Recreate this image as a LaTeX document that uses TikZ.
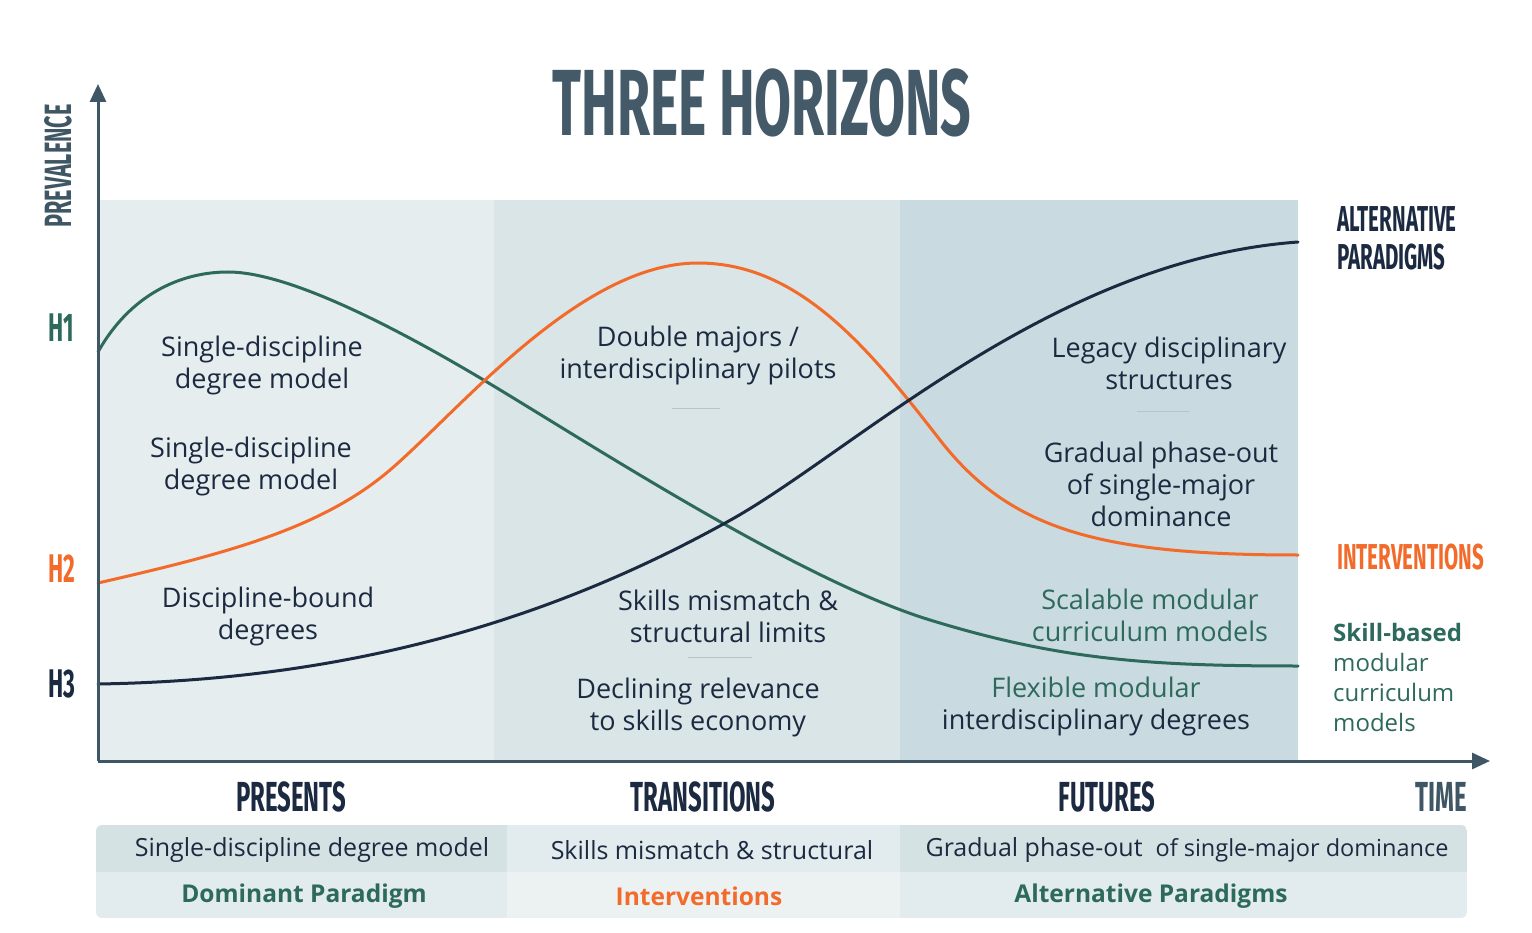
\documentclass[tikz,border=0pt]{standalone}
\usepackage{fontspec}
\setmainfont{Open Sans}
\newfontfamily\condfont{Fira Sans}[FakeStretch=0.57]
\usetikzlibrary{arrows.meta}
\definecolor{navy}{HTML}{1B2A40}
\definecolor{hgreen}{HTML}{2D6A5C}
\definecolor{horange}{HTML}{F26B2A}
\definecolor{axisc}{HTML}{3F5664}
\definecolor{titlec}{HTML}{455A69}
\definecolor{pa}{HTML}{E6EDEF}
\definecolor{pb}{HTML}{D9E5E7}
\definecolor{pc}{HTML}{C9DBE0}
\definecolor{ta}{HTML}{D5E2E4}
\definecolor{tb}{HTML}{E2EBED}
\definecolor{tc}{HTML}{ECF1F2}
\definecolor{sepc}{HTML}{B5C6CC}
\begin{document}
\begin{tikzpicture}[x=1pt,y=-1pt,
  body/.style={font=\fontsize{27}{32}\selectfont, text=navy, align=center, inner sep=0pt},
  cell/.style={font=\fontsize{25}{28}\selectfont, text=navy, inner sep=0pt},
  cellb/.style={font=\fontsize{24.5}{28}\selectfont\bfseries, inner sep=0pt},
  cond/.style={font=\condfont\bfseries\fontsize{#1}{#1}\selectfont, inner sep=0pt},
  cond/.default=40,
  curve/.style={line width=3pt, line cap=round},
  sep/.style={sepc, line width=1pt},
  axis/.style={axisc, line width=3pt, -{Triangle[length=18pt,width=16pt]}}]
\useasboundingbox (0,0) rectangle (1532,933);
\fill[white] (0,0) rectangle (1532,933);
% panels
\fill[pa] (98,200) rectangle (494,760);
\fill[pb] (494,200) rectangle (900,760);
\fill[pc] (900,200) rectangle (1298,760);
% title
\node[cond=94, text=titlec] (title) at (762,103) {THREE HORIZONS};
% curves
\draw[curve, hgreen] (98,352) .. controls (130,295) and (180,272) .. (228,272)
  .. controls (290,272) and (400,330) .. (487,382)
  .. controls (600,450) and (800,580) .. (930,620)
  .. controls (1060,660) and (1150,666) .. (1298,666);
\draw[curve, horange] (98,583) .. controls (220,555) and (320,530) .. (390,470)
  .. controls (460,410) and (580,263) .. (698,263)
  .. controls (800,263) and (870,350) .. (940,440)
  .. controls (1010,530) and (1100,555) .. (1298,555);
\draw[curve, navy] (98,684) .. controls (350,680) and (550,620) .. (727,522)
  .. controls (850,455) and (1050,260) .. (1298,242);
% axes
\coordinate (o) at (98,761);
\coordinate (ytop) at (98,84);
\coordinate (xend) at (1490,761);
\draw[axis] (o) -- (ytop);
\draw[axis] (o) -- (xend);
% axis labels
\node[cond=38, text=axisc, rotate=90] (prev) at (58,166) {PREVALENCE};
\node[cond=40, text=hgreen] (h1) at (61,328) {H1};
\node[cond=40, text=horange] (h2) at (62,569) {H2};
\node[cond=40, text=navy] (h3) at (62,684) {H3};
% panel texts
\node[body] (t1) at (262,365) {Single-discipline\\degree model};
\node[body] (t2) at (251,466) {Single-discipline\\degree model};
\node[body] (t3) at (268,616) {Discipline-bound\\degrees};
\node[body] (t4) at (698,355) {Double majors /\\interdisciplinary pilots};
\draw[sep] (672,408) -- (720,408);
\node[body] (t5) at (728,616) {Skills mismatch \&\\structural limits};
\draw[sep] (688,657) -- (752,657);
\node[body] (t6) at (698,707) {Declining relevance\\to skills economy};
\node[body] (t7) at (1169,363) {Legacy disciplinary\\structures};
\draw[sep] (1137,411) -- (1190,411);
\node[body] (t8) at (1161,484) {Gradual phase-out\\of single-major\\dominance};
\node[body, text=hgreen] (t9) at (1150,615) {Scalable modular\\curriculum models};
\node[body] (t10) at (1096,706) {\textcolor{hgreen}{Flexible modular}\\interdisciplinary degrees};
% right labels
\node[cond=36, text=navy, anchor=west, align=left] (alt) at (1337,238) {ALTERNATIVE\\[2pt]PARADIGMS};
\node[cond=36, text=horange, anchor=west] (int) at (1337,557) {INTERVENTIONS};
\node[anchor=west, align=left, text=hgreen, inner sep=0pt, font=\fontsize{24}{30}\selectfont] (skill) at (1333,677) {\textbf{Skill-based}\\modular\\curriculum\\models};
% bottom headers
\node[cond=42, text=navy] (pres) at (291,797) {PRESENTS};
\node[cond=42, text=navy] (trans) at (703,797) {TRANSITIONS};
\node[cond=42, text=navy] (fut) at (1107,797) {FUTURES};
\node[cond=42, text=axisc] (time) at (1441,797) {TIME};
% table
\begin{scope}
\clip[rounded corners=6pt] (96,825) rectangle (1467,918);
\fill[ta] (96,825) rectangle (507,872);
\fill[tb] (507,825) rectangle (900,872);
\fill[ta] (900,825) rectangle (1467,872);
\fill[tb] (96,872) rectangle (507,918);
\fill[tc] (507,872) rectangle (900,918);
\fill[tb] (900,872) rectangle (1467,918);
\end{scope}
\node[cell] (r11) at (312,850) {Single-discipline degree model};
\node[cell] (r12) at (712,850) {Skills mismatch \& structural};
\node[cell] (r13) at (1187,850) {Gradual phase-out\ \ {\fontsize{23.5}{28}\selectfont of single-major dominance}};
\node[cellb, text=hgreen] (r21) at (304,896) {Dominant Paradigm};
\node[cellb, text=horange] (r22) at (699,896) {Interventions};
\node[cellb, text=hgreen] (r23) at (1151,896) {Alternative Paradigms};
\end{tikzpicture}
\end{document}
